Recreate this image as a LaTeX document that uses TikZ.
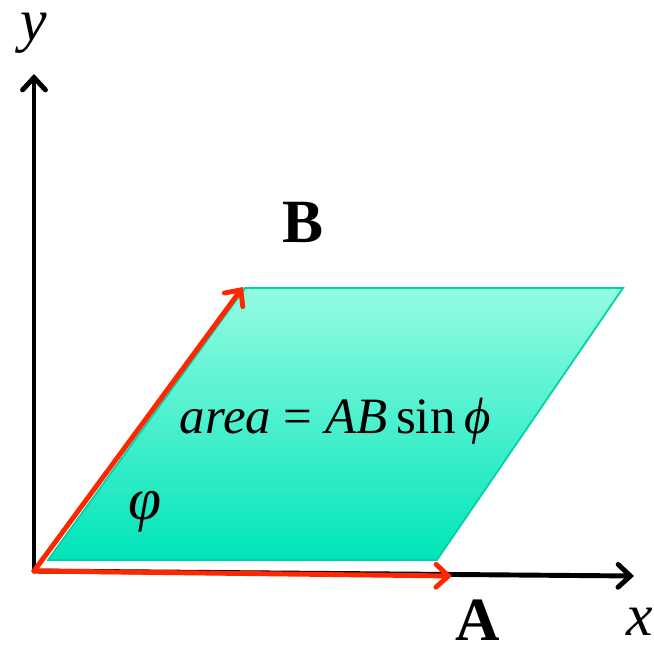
\documentclass[tikz,border=0pt]{standalone}
\usepackage{fontspec}
\setmainfont{Liberation Serif}
\usetikzlibrary{arrows.meta}
\definecolor{redvec}{HTML}{FF2600}
\definecolor{tealedge}{HTML}{00D2A6}
\definecolor{tealtop}{HTML}{94FBE2}
\definecolor{tealbot}{HTML}{00E5B9}
\tikzset{
  axis/.style={line width=2.8pt, -{Straight Barb[length=7pt, width=13pt, line cap=round]}},
  vec/.style={line width=2.8pt, redvec, -{Straight Barb[length=7pt, width=13pt, line cap=round]}},
  bigit/.style={inner sep=0pt, font=\fontsize{34}{38}\selectfont\itshape},
  bigbf/.style={inner sep=0pt, font=\fontsize{35}{40}\selectfont\bfseries}
}
\begin{document}
\begin{tikzpicture}[x=0.02cm, y=-0.02cm]
        \useasboundingbox (0,0) rectangle (654,645);

        % Ecken des Parallelogramms
        \coordinate (P1) at (48,560);
        \coordinate (P2) at (437,560);
        \coordinate (P3) at (623,288);
        \coordinate (P4) at (245,288);

        % Flaeche
        \shade[top color=tealtop, bottom color=tealbot]
            (P1) -- (P2) -- (P3) -- (P4) -- cycle;
        \draw[tealedge, line width=1pt] (P1) -- (P2) -- (P3) -- (P4) -- cycle;

        % Achsen
        \coordinate (O) at (34,571);
        \coordinate (Xend) at (634,576);
        \coordinate (Yend) at (34,74);
        \draw[axis, line cap=round] (O) -- (Xend);
        \draw[axis, line cap=round] (O) -- (Yend);

        % Vektoren
        \coordinate (Aend) at (452,576);
        \coordinate (Bend) at (243,287);
        \draw[vec, line cap=round] (O) -- (Aend);
        \draw[vec, line cap=round] (O) -- (Bend);

        % Beschriftungen
        \node[bigit] (ylab) at (34,33) {y};
        \node[bigit, anchor=east] (xlab) at (653,622) {x};
        \node[bigbf, anchor=base] (Alab) at (478,641) {A};
        \node[bigbf, anchor=base] (Blab) at (303,243) {B};
        \node[bigit] (philab) at (145,512) {φ};
        \node[font=\fontsize{29}{34}\selectfont] (area) at (335,421)
            {\textit{area} = \textit{AB}\,sin\,\textit{ϕ}};

    \end{tikzpicture}
\end{document}
